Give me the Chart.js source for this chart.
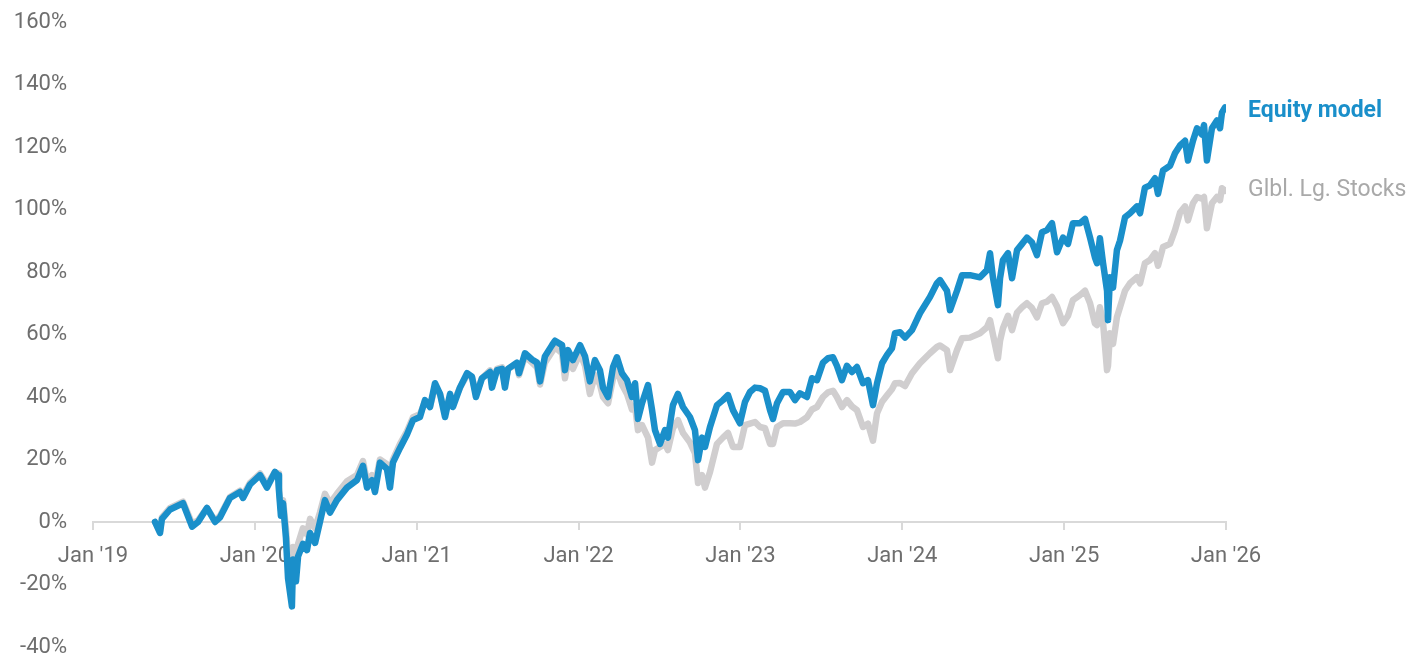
<!DOCTYPE html>
<html>
<head>
<meta charset="utf-8">
<script src="https://cdn.jsdelivr.net/npm/chart.js@4.4.1/dist/chart.umd.min.js"></script>
<style>
  html, body { margin: 0; padding: 0; background: #fff; }
  #wrap { width: 1412px; height: 659px; }
</style>
</head>
<body>
<div id="wrap"><canvas id="perf" width="1412" height="659"></canvas></div>
<script>
// cumulative return, % (weekly closes, decimal years)
const dates = [
  2019.383, 2019.414, 2019.426, 2019.476, 2019.556, 2019.612, 2019.649, 2019.704, 2019.754, 2019.785,
  2019.846, 2019.908, 2019.927, 2019.970, 2020.032, 2020.075, 2020.124, 2020.143, 2020.149, 2020.161,
  2020.174, 2020.192, 2020.205, 2020.229, 2020.236, 2020.254, 2020.267, 2020.297, 2020.322, 2020.341,
  2020.372, 2020.402, 2020.433, 2020.464, 2020.507, 2020.569, 2020.631, 2020.668, 2020.693, 2020.724,
  2020.742, 2020.773, 2020.816, 2020.835, 2020.853, 2020.897, 2020.940, 2020.977, 2021.020, 2021.051,
  2021.082, 2021.113, 2021.144, 2021.175, 2021.206, 2021.224, 2021.267, 2021.311, 2021.341, 2021.366,
  2021.403, 2021.453, 2021.465, 2021.496, 2021.527, 2021.545, 2021.564, 2021.619, 2021.632, 2021.669,
  2021.712, 2021.743, 2021.762, 2021.792, 2021.836, 2021.854, 2021.898, 2021.916, 2021.935, 2021.965,
  2022.009, 2022.040, 2022.070, 2022.101, 2022.132, 2022.151, 2022.182, 2022.213, 2022.237, 2022.268,
  2022.299, 2022.330, 2022.349, 2022.367, 2022.392, 2022.429, 2022.454, 2022.472, 2022.503, 2022.534,
  2022.552, 2022.583, 2022.614, 2022.645, 2022.688, 2022.719, 2022.738, 2022.763, 2022.781, 2022.812,
  2022.855, 2022.892, 2022.923, 2022.954, 2022.997, 2023.028, 2023.059, 2023.090, 2023.121, 2023.152,
  2023.183, 2023.201, 2023.226, 2023.263, 2023.306, 2023.337, 2023.368, 2023.411, 2023.442, 2023.473,
  2023.510, 2023.541, 2023.572, 2023.596, 2023.627, 2023.658, 2023.689, 2023.720, 2023.757, 2023.788,
  2023.819, 2023.844, 2023.875, 2023.905, 2023.936, 2023.955, 2023.986, 2024.017, 2024.060, 2024.109,
  2024.171, 2024.214, 2024.233, 2024.276, 2024.295, 2024.338, 2024.369, 2024.418, 2024.480, 2024.523,
  2024.542, 2024.560, 2024.591, 2024.604, 2024.622, 2024.653, 2024.678, 2024.709, 2024.740, 2024.770,
  2024.801, 2024.832, 2024.863, 2024.894, 2024.925, 2024.956, 2024.993, 2025.024, 2025.054, 2025.098,
  2025.129, 2025.160, 2025.190, 2025.203, 2025.221, 2025.240, 2025.265, 2025.271, 2025.283, 2025.302,
  2025.326, 2025.345, 2025.376, 2025.407, 2025.450, 2025.469, 2025.499, 2025.530, 2025.561, 2025.580,
  2025.611, 2025.654, 2025.685, 2025.716, 2025.747, 2025.765, 2025.796, 2025.821, 2025.851, 2025.864,
  2025.882, 2025.913, 2025.944, 2025.963, 2025.975, 2025.994
];

const equityModel = [
  0, -3.5, 1, 4, 6, -1.5, 0, 4.5, 0, 1.5,
  7.7, 9.6, 7.7, 12, 15, 11, 16, 15, 10, 2,
  6, -5, -18, -27, -12, -19, -11, -7, -9, -3.5,
  -6.7, 0, 7, 3, 7, 11, 13.4, 18, 11, 13.4,
  9.6, 19, 17, 11, 19, 23.7, 28, 32.6, 33.6, 39,
  36.8, 44.4, 41, 33.6, 41, 36.8, 43, 47.6, 46.5, 40,
  46, 48, 43, 48.6, 49, 43, 49, 51, 47.6, 54,
  52, 51, 45, 53, 56.6, 58, 56.6, 48.6, 55, 51.8,
  56.6, 53, 45, 51.8, 48.6, 43, 40, 49.6, 52.7, 47.6,
  45.4, 40, 44.4, 33, 38, 43.8, 35.8, 29.4, 25, 29.4,
  27, 37.4, 41, 36.8, 33.6, 29.4, 19.8, 27, 24, 30.4,
  37.4, 39, 40.6, 35.8, 31.6, 38.4, 41.6, 43, 42.8, 42,
  35.8, 33, 38, 41.6, 41.6, 39, 41.2, 40, 46, 45.4,
  51, 52.4, 52.7, 50, 45.4, 50, 48, 49.6, 44.4, 45.4,
  37.4, 44.4, 50.8, 53.4, 55.6, 60.4, 60.7, 59, 61.4, 66.8,
  72, 76.4, 77.4, 74, 67.8, 74, 79, 79, 78.3, 80.6,
  86, 78.3, 69.4, 78, 83.8, 86, 78, 87, 89, 91,
  89.5, 85.4, 92.7, 93.4, 95.6, 86.3, 91, 89, 95.6, 95.6,
  97, 91, 84.7, 82.8, 90.8, 83, 74, 64.6, 78.3, 75,
  87, 90, 97.5, 98.8, 101, 98.8, 107, 107.7, 110, 105,
  112.5, 114, 118, 120.5, 122, 115.7, 122, 126, 124, 127,
  115.7, 126, 128.5, 126, 131, 132.7
];

const globalLargeStocks = [
  0, -3, 1.5, 4.5, 6.5, -0.5, 0.5, 4.5, 0.5, 2,
  8, 10, 8.5, 12.5, 15.5, 12, 16, 15.5, 11, 4,
  7, -2, -12, -21, -8, -14, -7, -2, -4, 1,
  -2, 3, 9, 6, 9, 13, 15, 19.5, 13, 15,
  12, 20, 18.5, 13, 20, 25, 29, 33.5, 34.5, 38.5,
  37, 43, 41, 35, 40, 38, 43, 47, 46.5, 41,
  46, 48.5, 44, 49, 49.5, 44, 49, 50.5, 47, 53,
  51, 49.5, 44, 51, 54.5, 56, 54, 46, 52, 49,
  54, 50, 41, 47, 44, 40, 38, 46, 48.6, 44,
  41, 36, 37, 29.4, 31, 27, 19, 23, 24, 25,
  23, 30, 32.6, 28.5, 25.5, 22, 12.5, 15, 11, 16,
  25, 27, 28.5, 24, 24, 31, 31.5, 32, 30.4, 30,
  25, 25, 30.4, 31.6, 31.6, 31.5, 32, 33.5, 36, 36.8,
  40, 41.5, 42, 40, 36.8, 39, 37, 35.8, 30.4, 31.5,
  26, 34.8, 38.5, 40.5, 42.5, 44.4, 44.5, 43.5, 47.6, 50.8,
  54, 56, 56.5, 55, 48.6, 55, 58.8, 59, 60.4, 62.3,
  64.6, 60, 52.4, 58, 62, 66, 61.4, 67, 68.7, 70,
  68.5, 65.5, 70, 70.5, 72, 69, 63.6, 66, 71, 72.6,
  74, 70, 63.6, 63, 68.7, 64, 48.6, 50, 60.4, 57,
  65.5, 68.7, 74, 76.4, 78.3, 76.4, 82.8, 83.8, 86, 82,
  88, 89, 93.4, 99, 101, 96.5, 102, 104, 103.5, 104,
  94, 102, 104, 103, 106.8, 106
];

const yearLabels = ["Jan '19", "Jan '20", "Jan '21", "Jan '22", "Jan '23", "Jan '24", "Jan '25", "Jan '26"];
const seriesNames = ['Equity model', 'Glbl. Lg. Stocks'];

const BLUE = '#1a8fca';
const GREY_LINE = '#d0cecf';
const GREY_TEXT = '#a9a9a9';
const TICK_TEXT = '#6e6e6e';
const AXIS = '#d9d9d9';

const toPoints = vals => vals.map((v, i) => ({ x: dates[i], y: v }));

// series name written just right of each line's last point
const endLabels = {
  id: 'endLabels',
  afterDatasetsDraw(chart) {
    const ctx = chart.ctx;
    const x = chart.chartArea.right + 22;
    const nudge = [4, -1];
    ctx.save();
    ctx.textBaseline = 'middle';
    ctx.textAlign = 'left';
    chart.data.datasets.forEach((ds, i) => {
      const meta = chart.getDatasetMeta(i);
      const last = meta.data[meta.data.length - 1];
      ctx.font = (i === 0 ? 'bold ' : '') + '23px Roboto';
      ctx.fillStyle = i === 0 ? BLUE : GREY_TEXT;
      ctx.fillText(ds.label, x, last.y + nudge[i]);
    });
    ctx.restore();
  }
};

const ctx = document.getElementById('perf').getContext('2d');
const perfChart = new Chart(ctx, {
  type: 'line',
  data: {
    datasets: [{
      label: seriesNames[0],
      data: toPoints(equityModel),
      borderColor: BLUE,
      borderWidth: 6.5,
      pointRadius: 0,
      borderCapStyle: 'round',
      borderJoinStyle: 'round',
      tension: 0
    }, {
      label: seriesNames[1],
      data: toPoints(globalLargeStocks),
      borderColor: GREY_LINE,
      borderWidth: 6.5,
      pointRadius: 0,
      borderCapStyle: 'round',
      borderJoinStyle: 'round',
      tension: 0
    }]
  },
  options: {
    responsive: false,
    animation: false,
    devicePixelRatio: 1,
    layout: {
      padding: { top: 0, right: 186, bottom: 0, left: 0 }
    },
    plugins: {
      legend: { display: false },
      tooltip: { enabled: false }
    },
    scales: {
      x: {
        type: 'linear',
        position: { y: 0 },
        min: 2019,
        max: 2026,
        border: { color: AXIS, width: 2 },
        grid: {
          drawOnChartArea: false,
          drawTicks: true,
          tickLength: 7,
          color: AXIS,
          lineWidth: 2
        },
        ticks: {
          stepSize: 1,
          padding: 14,
          color: TICK_TEXT,
          font: { family: 'Roboto', size: 22 },
          maxRotation: 0,
          callback: v => yearLabels[Math.round(v - 2019)]
        }
      },
      y: {
        min: -40,
        max: 160,
        // fixed gutter on the left and fixed room above/below the plot
        afterFit: scale => {
          scale.width = 93;
          scale.paddingTop = 22;
          scale.paddingBottom = 12;
        },
        border: { display: false },
        grid: { display: false },
        ticks: {
          stepSize: 20,
          padding: 18,
          color: TICK_TEXT,
          font: { family: 'Roboto', size: 22 },
          callback: v => v + '%'
        }
      }
    }
  },
  plugins: [endLabels]
});
</script>
</body>
</html>
